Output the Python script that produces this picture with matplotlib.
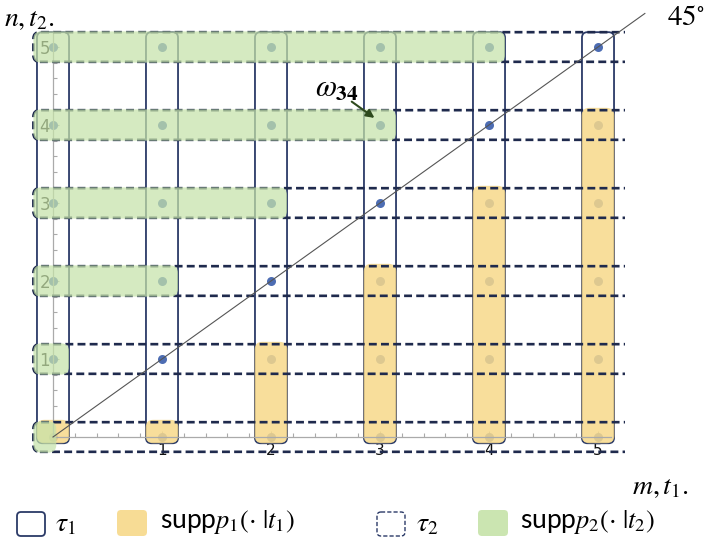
import matplotlib
matplotlib.use('Agg')
import matplotlib.pyplot as plt
import numpy as np
from matplotlib.patches import FancyBboxPatch, Rectangle

plt.rcParams['mathtext.fontset'] = 'stix'

# data: grid of outcomes (m, n)
m_vals = [0, 1, 2, 3, 4, 5]
n_vals = [0, 1, 2, 3, 4, 5]
# highest n in supp p1(.|t1 = m), for each column m
p1_top = [0, 0, 1, 2, 3, 4]
# highest m in supp p2(.|t2 = n), for each row n
p2_right = [0, 0, 1, 2, 3, 4]
tick_labels = ["1", "2", "3", "4", "5"]

navy = "#2b3a67"
dash_navy = "#1f2a4d"
yellow = "#f7d98a"
green = "#c6e3a9"
dot_blue = "#4d6db3"

fig = plt.figure(figsize=(7.07, 5.45), dpi=100)
ax = fig.add_axes([0, 0, 1, 1])
ax.set_xlim(-53 / 109, 654 / 109)
ax.set_ylim((437 - 545) / 78, 437 / 78)
ASP = 109 / 78  # makes rounded corners circular on screen


def rbox(x0, y0, x1, y1, r=0.06, **kw):
    p = FancyBboxPatch((x0, y0), x1 - x0, y1 - y0,
                       boxstyle=f"round,pad=0,rounding_size={r}",
                       mutation_aspect=ASP, **kw)
    ax.add_patch(p)
    return p


# dots at every outcome
for m in m_vals:
    for n in n_vals:
        ax.plot(m, n, 'o', color=dot_blue, ms=6.5, mec='none', zorder=1.2)

# tau1: solid column boxes
for m in m_vals:
    rbox(m - 0.147, -0.08, m + 0.147, 5.19, r=0.05, facecolor='none',
         edgecolor=navy, lw=1.3, zorder=1.5)

# supp p1: yellow columns
for m, top in zip(m_vals, p1_top):
    rbox(m - 0.15, -0.08, m + 0.15, top + 0.22, r=0.07, facecolor=yellow,
         edgecolor='none', alpha=0.85, zorder=2)

# tau2: dashed row boxes, right side cut open
clip = Rectangle((-0.5, -1), 5.75, 8, transform=ax.transData)
for n in n_vals:
    p = rbox(-0.18, n - 0.19, 5.6, n + 0.19, r=0.06, facecolor='none',
             edgecolor=dash_navy, lw=1.9, linestyle=(0, (3.0, 1.6)), zorder=3)
    p.set_clip_path(clip)

# supp p2: green rows
for n, right in zip(n_vals, p2_right):
    x1 = right + 0.147 if n > 0 else 0.03
    rbox(-0.18, n - 0.2, x1, n + 0.2, r=0.07, facecolor=green,
         edgecolor='none', alpha=0.72, zorder=4)

# 45 degree line
ax.plot([0, 5.43], [0, 5.43], color='#555555', lw=0.8, zorder=5)

# axes through the origin
ax.set_axisbelow(True)
for s in ['top', 'right']:
    ax.spines[s].set_visible(False)
ax.spines['left'].set_position(('data', 0))
ax.spines['bottom'].set_position(('data', 0))
ax.spines['left'].set_bounds(0, 5.2)
ax.spines['bottom'].set_bounds(0, 5.12)
for s in ['left', 'bottom']:
    ax.spines[s].set_color('#aaaaaa')
    ax.spines[s].set_linewidth(0.9)
ax.set_xticks(m_vals[1:])
ax.set_xticklabels(tick_labels)
ax.set_yticks(n_vals[1:])
ax.set_yticklabels(tick_labels)
ax.set_xticks(np.arange(0.2, 5.1, 0.2), minor=True)
ax.set_yticks(np.arange(0.2, 5.1, 0.2), minor=True)
ax.tick_params(which='both', direction='in', color='#aaaaaa', width=0.8)
ax.tick_params(which='major', length=4)
ax.tick_params(which='minor', length=3)
ax.tick_params(axis='x', labelsize=11, labelcolor='#111111', pad=4)
ax.tick_params(axis='y', labelsize=12, labelcolor='#111111', pad=2)

# annotation
ax.annotate("", xy=(2.97, 4.07), xytext=(2.72, 4.32),
            arrowprops=dict(arrowstyle='-|>', color='#2e4a1e', lw=1.5,
                            mutation_scale=12), zorder=6)
ax.text(2.6, 4.47, r"$\omega_{\mathbf{34}}$", fontsize=22, ha='center',
        va='center', zorder=6)

# overlay in pixel coordinates for labels and legend
lax = fig.add_axes([0, 0, 1, 1])
lax.set_xlim(0, 707)
lax.set_ylim(545, 0)
lax.axis('off')
lax.text(4, 18, r"$n, t_2.$", fontsize=20, ha='left', va='center')
lax.text(632, 486, r"$m, t_1.$", fontsize=20, ha='left', va='center')
lax.text(667, 17, r"$45^{\circ}$", fontsize=21, ha='left', va='center')


def lbox(x0, y0, x1, y1, **kw):
    lax.add_patch(FancyBboxPatch((x0, y0), x1 - x0, y1 - y0,
                                 boxstyle="round,pad=0,rounding_size=4", **kw))


lbox(17, 512, 45, 536, facecolor='none', edgecolor=navy, lw=1.3)
lax.text(55, 523, r"$\tau_1$", fontsize=20, va='center')
lbox(117, 510, 147, 536, facecolor=yellow, edgecolor='none', alpha=0.9)
lax.text(160, 522, r"supp$p_1(\cdot\ |t_1)$", fontsize=19, va='center',
         family='Lato')
lbox(377, 512, 405, 536, facecolor='none', edgecolor=navy, lw=1.0,
     linestyle=(0, (3, 1.5)))
lax.text(416, 523, r"$\tau_2$", fontsize=20, va='center')
lbox(478, 510, 508, 536, facecolor=green, edgecolor='none', alpha=0.9)
lax.text(520, 522, r"supp$p_2(\cdot\ |t_2)$", fontsize=19, va='center',
         family='Lato')

fig.savefig("out.png", dpi=100)
